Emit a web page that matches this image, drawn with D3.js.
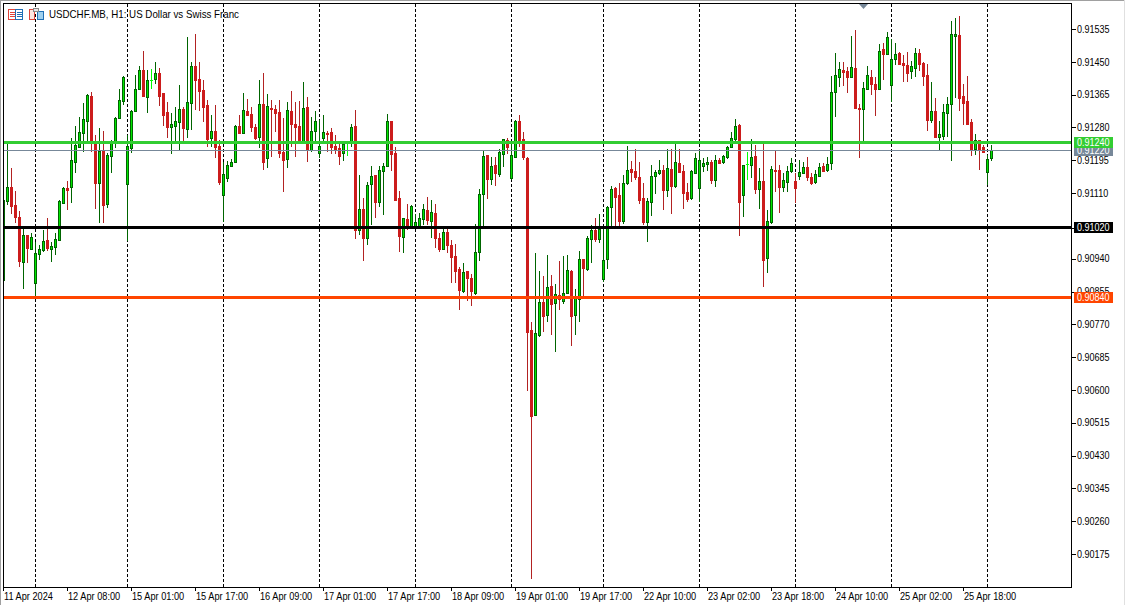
<!DOCTYPE html>
<html>
<head>
<meta charset="utf-8">
<script src="https://cdn.jsdelivr.net/npm/d3@7/dist/d3.min.js"></script>
<style>
html,body{margin:0;padding:0;background:#fff;overflow:hidden}
svg{display:block}
text{font-family:"Liberation Sans",Arial,sans-serif;font-size:10px}
</style>
</head>
<body>
<svg id="c" width="1125" height="605"></svg>
<script>
// Prices in points (1 point = 0.00001)
const opens=[90885,91089,91126,91079,91048,90931,91001,90965,90877,90952,
90963,90988,90965,90970,90988,91084,91123,91126,91190,91229,
91265,91297,91361,91242,91136,91222,91082,91206,91242,91304,
91348,91133,91227,91323,91379,91429,91359,91403,91405,91421,
91369,91320,91281,91284,91294,91328,91276,91343,91439,91405,
91377,91338,91253,91271,91232,91105,91149,91180,91190,91284,
91265,91323,91315,91281,91255,91341,91201,91330,91328,91320,
91216,91198,91323,91289,91284,91242,91333,91222,91271,91214,
91253,91265,91268,91232,91227,91214,91240,91242,91284,91014,
91069,90994,91133,91157,91087,91167,91180,91297,91214,91097,
90996,91043,91022,91022,91022,91043,91066,91038,91058,90994,
90965,91009,90975,90947,90913,90856,90908,90890,90851,90957,
91108,91209,91146,91183,91159,91211,91247,91149,91203,91297,
91250,91201,90755,90535,90742,90828,90794,90869,90825,90846,
90830,90851,90908,90794,90836,90939,90913,90991,91014,90991,
90887,90939,91074,91123,91105,91038,91136,91172,91167,91152,
91097,91035,91087,91154,91162,91170,91118,91172,91128,91188,
91167,91113,91097,91162,91123,91180,91185,91190,91144,91196,
91190,91203,91229,91250,91286,91105,91185,91183,91206,91120,
91141,90942,91035,91170,91170,91126,91139,91167,91141,91154,
91162,91177,91152,91139,91154,91180,91170,91188,91372,91411,
91429,91426,91411,91434,91330,91328,91379,91411,91392,91379,
91483,91470,91390,91457,91473,91447,91442,91426,91434,91473,
91447,91416,91299,91323,91255,91258,91317,91341,91517,91519,
91361,91348,91294,91224,91247,91229,91165,91201];
const highs=[91092,91240,91175,91115,91063,91022,91001,91006,90983,90975,
91014,91045,90983,91006,91092,91126,91141,91253,91284,91307,
91343,91367,91372,91260,91278,91271,91214,91247,91307,91379,
91413,91260,91325,91416,91439,91478,91429,91431,91449,91434,
91369,91346,91317,91333,91390,91333,91514,91449,91522,91449,
91403,91351,91312,91338,91247,91190,91193,91198,91286,91312,
91369,91354,91333,91289,91403,91421,91367,91351,91338,91351,
91304,91346,91374,91346,91348,91398,91359,91307,91323,91299,
91312,91271,91278,91260,91240,91242,91242,91289,91325,91157,
91097,91139,91180,91157,91180,91188,91315,91297,91229,91115,
91045,91082,91079,91056,91058,91082,91100,91092,91082,91006,
91019,91019,90988,90978,90919,90929,90908,90900,91030,91120,
91219,91209,91203,91203,91224,91250,91253,91245,91299,91312,
91268,91203,90776,90955,90908,90895,90950,90898,90874,90934,
90947,90950,90911,90861,90960,90939,90999,91027,91045,91056,
91022,91076,91128,91126,91136,91157,91232,91193,91224,91190,
91136,91097,91183,91170,91196,91183,91224,91224,91240,91224,
91183,91136,91170,91214,91222,91201,91203,91196,91209,91201,
91209,91232,91268,91302,91289,91183,91216,91250,91234,91175,
91240,91066,91180,91222,91183,91162,91180,91201,91162,91196,
91190,91203,91162,91170,91188,91188,91203,91413,91473,91449,
91449,91436,91517,91532,91341,91398,91439,91429,91411,91496,
91499,91527,91509,91499,91475,91468,91475,91452,91486,91483,
91449,91444,91398,91356,91297,91341,91359,91556,91563,91569,
91392,91413,91302,91263,91247,91234,91209,91234];
const lows=[90885,91079,91056,91032,90919,90861,90929,90963,90841,90937,
90957,90960,90931,90950,90986,91082,91066,91084,91162,91227,
91216,91242,91216,91069,91032,91032,91071,91162,91227,91304,
91338,90986,91214,91320,91377,91359,91317,91379,91392,91335,
91284,91253,91211,91245,91219,91242,91253,91273,91325,91323,
91294,91229,91229,91201,91131,91035,91139,91180,91190,91265,
91263,91312,91268,91247,91227,91170,91175,91203,91268,91201,
91113,91175,91229,91203,91240,91240,91190,91216,91240,91201,
91242,91216,91211,91211,91183,91193,91206,91229,90991,91001,
90934,90975,91027,91045,91074,91053,91177,91167,91092,90957,
90955,91014,91019,91019,91019,91027,91027,90994,90968,90957,
90963,90955,90877,90877,90807,90851,90830,90817,90846,90934,
91022,91095,91131,91128,91152,91177,91211,91144,91201,91229,
91196,90597,90110,90535,90737,90750,90776,90742,90698,90807,
90823,90851,90714,90742,90776,90841,90908,90929,90983,90981,
90880,90913,91022,91022,91022,91030,91131,91139,91144,91082,
91027,90983,91051,91108,91157,91066,91100,91056,91123,91165,
91069,91087,91092,91162,91087,91165,91167,91133,91126,91188,
91185,91198,91229,91242,90999,91048,91144,91149,91108,91069,
90867,90903,91030,91113,91058,91113,91113,91162,91084,91144,
91162,91141,91131,91133,91152,91165,91165,91170,91307,91385,
91387,91369,91408,91328,91201,91242,91377,91364,91310,91377,
91403,91468,91346,91442,91442,91398,91398,91405,91411,91426,
91387,91271,91291,91253,91219,91247,91255,91193,91356,91323,
91286,91289,91206,91209,91170,91214,91131,91193];
const closes=[91092,91126,91076,91048,90934,91001,90968,90996,90955,90965,
90986,90968,90973,90991,91089,91123,91118,91196,91234,91268,
91302,91364,91240,91136,91219,91079,91209,91245,91304,91351,
91411,91232,91323,91379,91429,91361,91403,91403,91421,91361,
91312,91281,91289,91297,91328,91278,91346,91439,91403,91374,
91333,91250,91271,91229,91139,91159,91183,91190,91284,91265,
91325,91312,91281,91253,91341,91190,91335,91328,91317,91214,
91196,91325,91289,91281,91242,91330,91222,91271,91297,91232,
91268,91263,91229,91224,91206,91237,91240,91281,91014,91069,
90994,91131,91154,91087,91170,91180,91297,91211,91092,90999,
91045,91019,91076,91035,91045,91069,91040,91061,90994,90965,
91009,90975,90944,90908,90859,90906,90890,90856,90957,91108,
91206,91146,91180,91162,91216,91250,91229,91209,91297,91245,
91203,90750,90533,90748,90828,90792,90867,90823,90849,90836,
90851,90911,90792,90838,90939,90916,90994,91014,90991,91017,
90937,91074,91120,91100,91038,91136,91170,91165,91152,91092,
91035,91089,91154,91165,91170,91118,91175,91128,91190,91165,
91110,91095,91167,91201,91196,91188,91190,91144,91196,91188,
91206,91229,91253,91284,91087,91183,91185,91203,91120,91141,
90937,91038,91172,91167,91126,91144,91167,91188,91123,91165,
91177,91152,91136,91159,91177,91167,91185,91372,91416,91431,
91424,91411,91436,91330,91328,91382,91416,91392,91379,91478,
91470,91514,91457,91470,91444,91442,91421,91439,91473,91444,
91413,91299,91323,91255,91263,91320,91341,91522,91522,91356,
91343,91289,91224,91247,91224,91216,91198,91222];

const priceTicks=[0.91535,0.91450,0.91365,0.91280,0.91195,0.91110,0.91020,0.90940,0.90855,0.90770,0.90685,0.90600,0.90515,0.90430,0.90345,0.90260,0.90175];
const timeLabels=["11 Apr 2024","12 Apr 08:00","15 Apr 01:00","15 Apr 17:00","16 Apr 09:00","17 Apr 01:00","17 Apr 17:00","18 Apr 09:00","19 Apr 01:00","19 Apr 17:00","22 Apr 10:00","23 Apr 02:00","23 Apr 18:00","24 Apr 10:00","25 Apr 02:00","25 Apr 18:00"];
const timeLabelEvery=16;
const separatorBars=[8,31,55,79,103,127,150,174,198,222,246];
const levelPrices=[0.91220,0.91020,0.90840,0.91240];
const levelColors=["#778899","#000000","#ff4500","#32cd32"];
const levelWidths=[1,3,3,3];
const title="USDCHF.MB, H1: US Dollar vs Swiss Franc";

const svg=d3.select("#c");
const x=d3.scaleLinear().domain([0,1]).range([3.5,7.5]);
const yRaw=d3.scaleLinear().domain([0.90175,0.91535]).range([554,29]);
const px=p=>yRaw(p/1e5);
const snap=y=>Math.round(y)+0.5;

svg.append("rect").attr("width",1125).attr("height",605).attr("fill","#fff");

const defs=svg.append("defs");
defs.append("clipPath").attr("id","plot").append("rect").attr("x",4).attr("y",4).attr("width",1067).attr("height",583);

const plot=svg.append("g").attr("clip-path","url(#plot)").attr("shape-rendering","crispEdges");

// day separators
plot.append("g").selectAll("line").data(separatorBars).join("line")
 .attr("x1",d=>x(d)).attr("x2",d=>x(d)).attr("y1",4).attr("y2",587)
 .attr("stroke","#000").attr("stroke-dasharray","3,2");

// candles
const bars=d3.range(opens.length).map(i=>({i,o:opens[i],h:highs[i],l:lows[i],c:closes[i]}));
const kind=d=>d.c>d.o?"up":d.c<d.o?"down":"doji";
const wickColor={up:"#006400",down:"#b22222",doji:"#00ff00"};
plot.append("g").selectAll("line").data(bars).join("line")
 .attr("x1",d=>x(d.i)).attr("x2",d=>x(d.i))
 .attr("y1",d=>Math.round(px(d.h))).attr("y2",d=>Math.round(px(d.l)))
 .attr("stroke",d=>wickColor[kind(d)]);
plot.append("g").selectAll("rect").data(bars.filter(d=>kind(d)!=="doji")).join("rect")
 .attr("x",d=>x(d.i)-1)
 .attr("y",d=>snap(px(Math.max(d.o,d.c))))
 .attr("width",2)
 .attr("height",d=>Math.max(1,Math.round(px(Math.min(d.o,d.c)))-Math.round(px(Math.max(d.o,d.c)))))
 .attr("fill",d=>kind(d)==="up"?"#00e600":"#cc1c1c")
 .attr("stroke",d=>kind(d)==="up"?"#006400":"#cc1c1c");
plot.append("g").selectAll("line").data(bars.filter(d=>kind(d)==="doji")).join("line")
 .attr("x1",d=>x(d.i)-1.5).attr("x2",d=>x(d.i)+1.5)
 .attr("y1",d=>snap(px(d.c))).attr("y2",d=>snap(px(d.c)))
 .attr("stroke",wickColor.doji);

// horizontal levels
const levels=levelPrices.map((p,i)=>({p,color:levelColors[i],w:levelWidths[i],y:Math.floor(yRaw(p))+0.5}));
plot.append("g").selectAll("line").data(levels).join("line")
 .attr("x1",4).attr("x2",1071).attr("y1",d=>d.y).attr("y2",d=>d.y)
 .attr("stroke",d=>d.color).attr("stroke-width",d=>d.w);

// window edge
svg.append("line").attr("x1",0).attr("x2",1125).attr("y1",0.5).attr("y2",0.5).attr("stroke","#a0a0a0").attr("shape-rendering","crispEdges");
svg.append("line").attr("x1",0.5).attr("x2",0.5).attr("y1",0).attr("y2",605).attr("stroke","#a0a0a0").attr("shape-rendering","crispEdges");
svg.append("line").attr("x1",1124.5).attr("x2",1124.5).attr("y1",0).attr("y2",605).attr("stroke","#e0e0e0").attr("shape-rendering","crispEdges");

// frame
svg.append("rect").attr("x",3.5).attr("y",3.5).attr("width",1068).attr("height",584)
 .attr("fill","none").attr("stroke","#000").attr("shape-rendering","crispEdges");

function squeeze(sel,f){sel.each(function(){const n=this.getComputedTextLength();d3.select(this).attr("textLength",n*f).attr("lengthAdjust","spacingAndGlyphs");});}

// price axis
const yAxis=d3.axisRight(yRaw).tickValues(priceTicks).tickFormat(d3.format(".5f")).tickSize(4).tickSizeOuter(0);
const ya=svg.append("g").attr("transform","translate(1072,0)").call(yAxis);
ya.select(".domain").remove();
ya.selectAll("line").attr("stroke","#000").attr("shape-rendering","crispEdges");
ya.selectAll("text").attr("x",5).attr("fill","#000");
ya.attr("font-family",null).attr("font-size",null);
squeeze(ya.selectAll("text"),0.9);

// time axis
const timeTicks=timeLabels.map((_,k)=>k*timeLabelEvery);
const xAxis=d3.axisBottom(x).tickValues(timeTicks).tickFormat((d,k)=>timeLabels[k]).tickSize(4).tickSizeOuter(0).offset(0);
const xa=svg.append("g").attr("transform","translate(0,587)").call(xAxis);
xa.select(".domain").remove();
xa.selectAll("line").attr("stroke","#000").attr("shape-rendering","crispEdges");
xa.selectAll("text").attr("x",0.5).attr("y",13).attr("dy",null).attr("text-anchor","start").attr("fill","#000");
xa.attr("font-family",null).attr("font-size",null).attr("text-anchor",null);
squeeze(xa.selectAll("text"),0.92);

// level tags
const tags=svg.append("g");
tags.selectAll("g").data(levels).join("g").each(function(d){
  const g=d3.select(this);
  g.append("rect").attr("x",1074).attr("y",Math.floor(d.y)-5).attr("width",39).attr("height",11).attr("fill",d.color).attr("shape-rendering","crispEdges");
  g.append("text").attr("x",1077).attr("y",d.y+3.5).attr("fill","#fff").text(d3.format(".5f")(d.p));
});
squeeze(tags.selectAll("text"),0.9);

// title
const t=svg.append("text").attr("x",49).attr("y",18).attr("fill","#000").style("font-size","11px").text(title);
t.attr("textLength",190).attr("lengthAdjust","spacingAndGlyphs");

// marker on top edge
svg.append("path").attr("d","M859 4H868L863.5 9Z").attr("fill","#778899");

// toolbar icons
const icon=svg.append("g").attr("shape-rendering","crispEdges").attr("fill","none");
icon.append("rect").attr("x",8.5).attr("y",9.5).attr("width",7).attr("height",10).attr("stroke","#e0453a");
icon.append("rect").attr("x",15.5).attr("y",9.5).attr("width",7).attr("height",10).attr("stroke","#1f6fb5");
[12,14,16].forEach(v=>{
  icon.append("line").attr("x1",10).attr("x2",15).attr("y1",v+.5).attr("y2",v+.5).attr("stroke","#e0453a");
  icon.append("line").attr("x1",17).attr("x2",22).attr("y1",v+.5).attr("y2",v+.5).attr("stroke","#1f6fb5");
});
icon.append("path").attr("d","M29.5 9.5H34.5V19.5H29.5Z").attr("stroke","#e0453a").attr("fill","#fde6e2");
icon.append("path").attr("d","M37.5 11.5H43.5V19.5H37.5Z").attr("stroke","#1f6fb5").attr("fill","#9fd0ee");
icon.append("rect").attr("x",33.5).attr("y",8.5).attr("width",5).attr("height",3).attr("stroke","#888").attr("fill","#e8e8e8");
</script>
</body>
</html>
